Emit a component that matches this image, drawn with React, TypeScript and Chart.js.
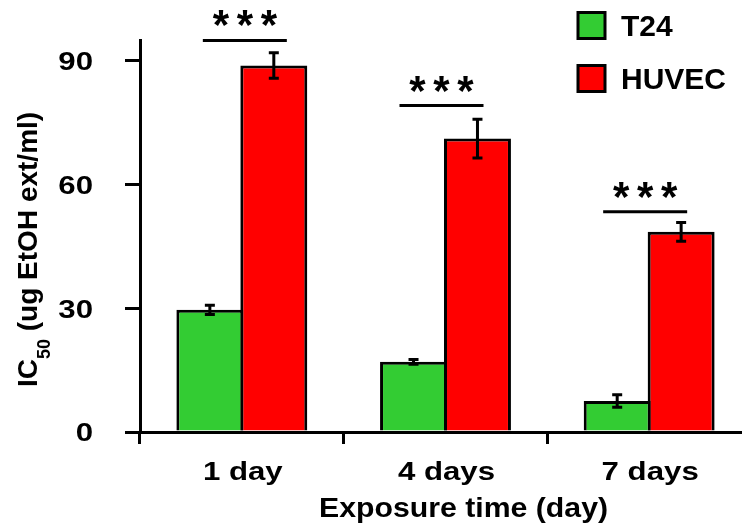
import React, { useEffect, useRef } from 'react';
import { Chart, registerables } from 'chart.js';

Chart.register(...registerables);

// ---- Data ----
const categories = ['1 day', '4 days', '7 days'];
const seriesNames = ['T24', 'HUVEC'];
const t24Values = [29.6, 17.0, 7.5];
const t24Errors = [1.1, 0.6, 1.5];
const huvecValues = [88.8, 71.1, 48.5];
const huvecErrors = [3.1, 4.7, 2.3];
const yTicks = [0, 30, 60, 90];
const significanceLevels = [94.9, 79.1, 53.4];
const significanceMarks = ['***', '***', '***'];
const yTitleMain = 'IC';
const yTitleSub = '50';
const yTitleRest = ' (ug EtOH ext/ml)';
const xTitle = 'Exposure time (day)';

const FONT = "'Liberation Sans', Arial, Helvetica, sans-serif";
const GREEN = '#33CC33';
const RED = '#FF0000';
const colors = [GREEN, RED];
const errors = [t24Errors, huvecErrors];

function drawText(ctx: CanvasRenderingContext2D, text: string, x: number, y: number, size: number, align: CanvasTextAlign, sx: number) {
  ctx.save();
  ctx.translate(x, y);
  ctx.scale(sx, 1);
  ctx.font = `bold ${size}px ${FONT}`;
  ctx.textAlign = align;
  ctx.textBaseline = 'alphabetic';
  ctx.fillStyle = '#000';
  ctx.fillText(text, 0, 0);
  ctx.restore();
}

const overlayPlugin = {
  id: 'overlay',
  afterDatasetsDraw(chart: any) {
    const ctx = chart.ctx;
    const y = chart.scales.y;
    ctx.save();
    ctx.strokeStyle = '#000';
    ctx.lineWidth = 3;
    chart.data.datasets.forEach((ds: any, i: number) => {
      const meta = chart.getDatasetMeta(i);
      meta.data.forEach((bar: any, j: number) => {
        const v = ds.data[j];
        const e = errors[i][j];
        const yt = y.getPixelForValue(v + e);
        const yb = y.getPixelForValue(v - e);
        ctx.beginPath();
        ctx.moveTo(bar.x, yt);
        ctx.lineTo(bar.x, yb);
        ctx.moveTo(bar.x - 5, yt);
        ctx.lineTo(bar.x + 5, yt);
        ctx.moveTo(bar.x - 5, yb);
        ctx.lineTo(bar.x + 5, yb);
        ctx.stroke();
      });
    });
    ctx.restore();
  },
  afterDraw(chart: any) {
    const ctx = chart.ctx;
    const x = chart.scales.x;
    const y = chart.scales.y;
    ctx.save();
    // significance lines and stars
    const spans = [[-39, 45], [-46, 38], [-46, 38]];
    significanceLevels.forEach((lvl, j) => {
      const cx = x.getPixelForValue(j);
      const py = y.getPixelForValue(lvl);
      ctx.strokeStyle = '#000';
      ctx.lineWidth = 3;
      ctx.beginPath();
      ctx.moveTo(cx + spans[j][0], py);
      ctx.lineTo(cx + spans[j][1], py);
      ctx.stroke();
      const mid = cx + (spans[j][0] + spans[j][1]) / 2;
      ctx.fillStyle = '#000';
      ctx.font = `bold 42px ${FONT}`;
      ctx.textAlign = 'center';
      ctx.textBaseline = 'alphabetic';
      const marks = significanceMarks[j].split('');
      const m = ctx.measureText('*');
      const starCenterOffset = (m.actualBoundingBoxAscent - m.actualBoundingBoxDescent) / 2;
      marks.forEach((s, k) => {
        const sx = mid + (k - (marks.length - 1) / 2) * 24;
        ctx.fillText(s, sx, py - 22 + starCenterOffset);
      });
    });

    // y tick labels
    yTicks.forEach((v) => {
      const py = y.getPixelForValue(v);
      drawText(ctx, String(v), 93, py + 9.3, 26, 'right', 1.2);
    });
    // x tick labels
    categories.forEach((c, j) => {
      drawText(ctx, c, x.getPixelForValue(j) + 1, 480, 26, 'center', 1.2);
    });

    // y title with subscript
    ctx.fillStyle = '#000';
    ctx.translate(37, 387);
    ctx.rotate(-Math.PI / 2);
    ctx.textAlign = 'left';
    ctx.textBaseline = 'alphabetic';
    ctx.font = `bold 28px ${FONT}`;
    ctx.fillText(yTitleMain, 0, 0);
    let off = ctx.measureText(yTitleMain).width;
    ctx.font = `bold 18px ${FONT}`;
    ctx.fillText(yTitleSub, off, 13);
    off += ctx.measureText(yTitleSub).width;
    ctx.font = `bold 28px ${FONT}`;
    ctx.fillText(yTitleRest, off, 0);
    ctx.setTransform(1, 0, 0, 1, 0, 0);

    // x title
    drawText(ctx, xTitle, 319, 517, 28, 'left', 1.08);

    // legend
    const legendY = [25.5, 78.5];
    seriesNames.forEach((name, i) => {
      const cy = legendY[i];
      ctx.fillStyle = colors[i];
      ctx.fillRect(578, cy - 13, 27, 26);
      ctx.strokeStyle = '#000';
      ctx.lineWidth = 3;
      ctx.strokeRect(578, cy - 13, 27, 26);
      drawText(ctx, name, 621, cy + 10.7, 30, 'left', 1);
    });
    ctx.restore();
  },
};

export default function App() {
  const ref = useRef<HTMLCanvasElement | null>(null);
  useEffect(() => {
    document.body.style.margin = '0';
    document.body.style.overflow = 'hidden';
    const canvas = ref.current!;
    const chart = new Chart(canvas, {
      type: 'bar',
      data: {
        labels: categories,
        datasets: [
          {
            label: seriesNames[0],
            data: t24Values,
            backgroundColor: GREEN,
            borderColor: '#000',
            borderWidth: 3,
            borderSkipped: 'bottom',
            categoryPercentage: 0.628,
            barPercentage: 1.047,
          },
          {
            label: seriesNames[1],
            data: huvecValues,
            backgroundColor: RED,
            borderColor: '#000',
            borderWidth: 3,
            borderSkipped: 'bottom',
            categoryPercentage: 0.628,
            barPercentage: 1.047,
          },
        ],
      },
      options: {
        responsive: false,
        animation: false,
        devicePixelRatio: 1,
        layout: { padding: { top: 40, right: 0, left: 0, bottom: 0 } },
        plugins: {
          legend: { display: false },
          tooltip: { enabled: false },
          title: { display: false },
        },
        scales: {
          x: {
            type: 'category',
            offset: true,
            grid: {
              offset: true,
              drawOnChartArea: false,
              drawTicks: true,
              tickLength: 12,
              tickWidth: 3,
              tickColor: '#000',
              lineWidth: 3,
              color: '#000',
            },
            border: { display: true, color: '#000', width: 3 },
            ticks: { display: false },
            afterFit: (s: any) => {
              s.height = 91;
              s.paddingLeft = 0;
              s.paddingRight = 0;
            },
          },
          y: {
            min: 0,
            max: 95,
            grid: {
              drawOnChartArea: false,
              drawTicks: true,
              tickLength: 15,
              tickWidth: 3,
              tickColor: '#000',
              lineWidth: 3,
              color: '#000',
            },
            border: { display: true, color: '#000', width: 3 },
            ticks: { display: false },
            afterBuildTicks: (s: any) => {
              s.ticks = yTicks.map((v) => ({ value: v }));
            },
            afterFit: (s: any) => {
              s.width = 140;
              s.paddingTop = 0;
              s.paddingBottom = 0;
            },
          },
        },
      },
      plugins: [overlayPlugin],
    } as any);
    return () => chart.destroy();
  }, []);
  return (
    <div style={{ width: 742, height: 523, overflow: 'hidden', position: 'relative', background: '#fff' }}>
      <canvas ref={ref} width={751} height={523} style={{ display: 'block' }} />
    </div>
  );
}
